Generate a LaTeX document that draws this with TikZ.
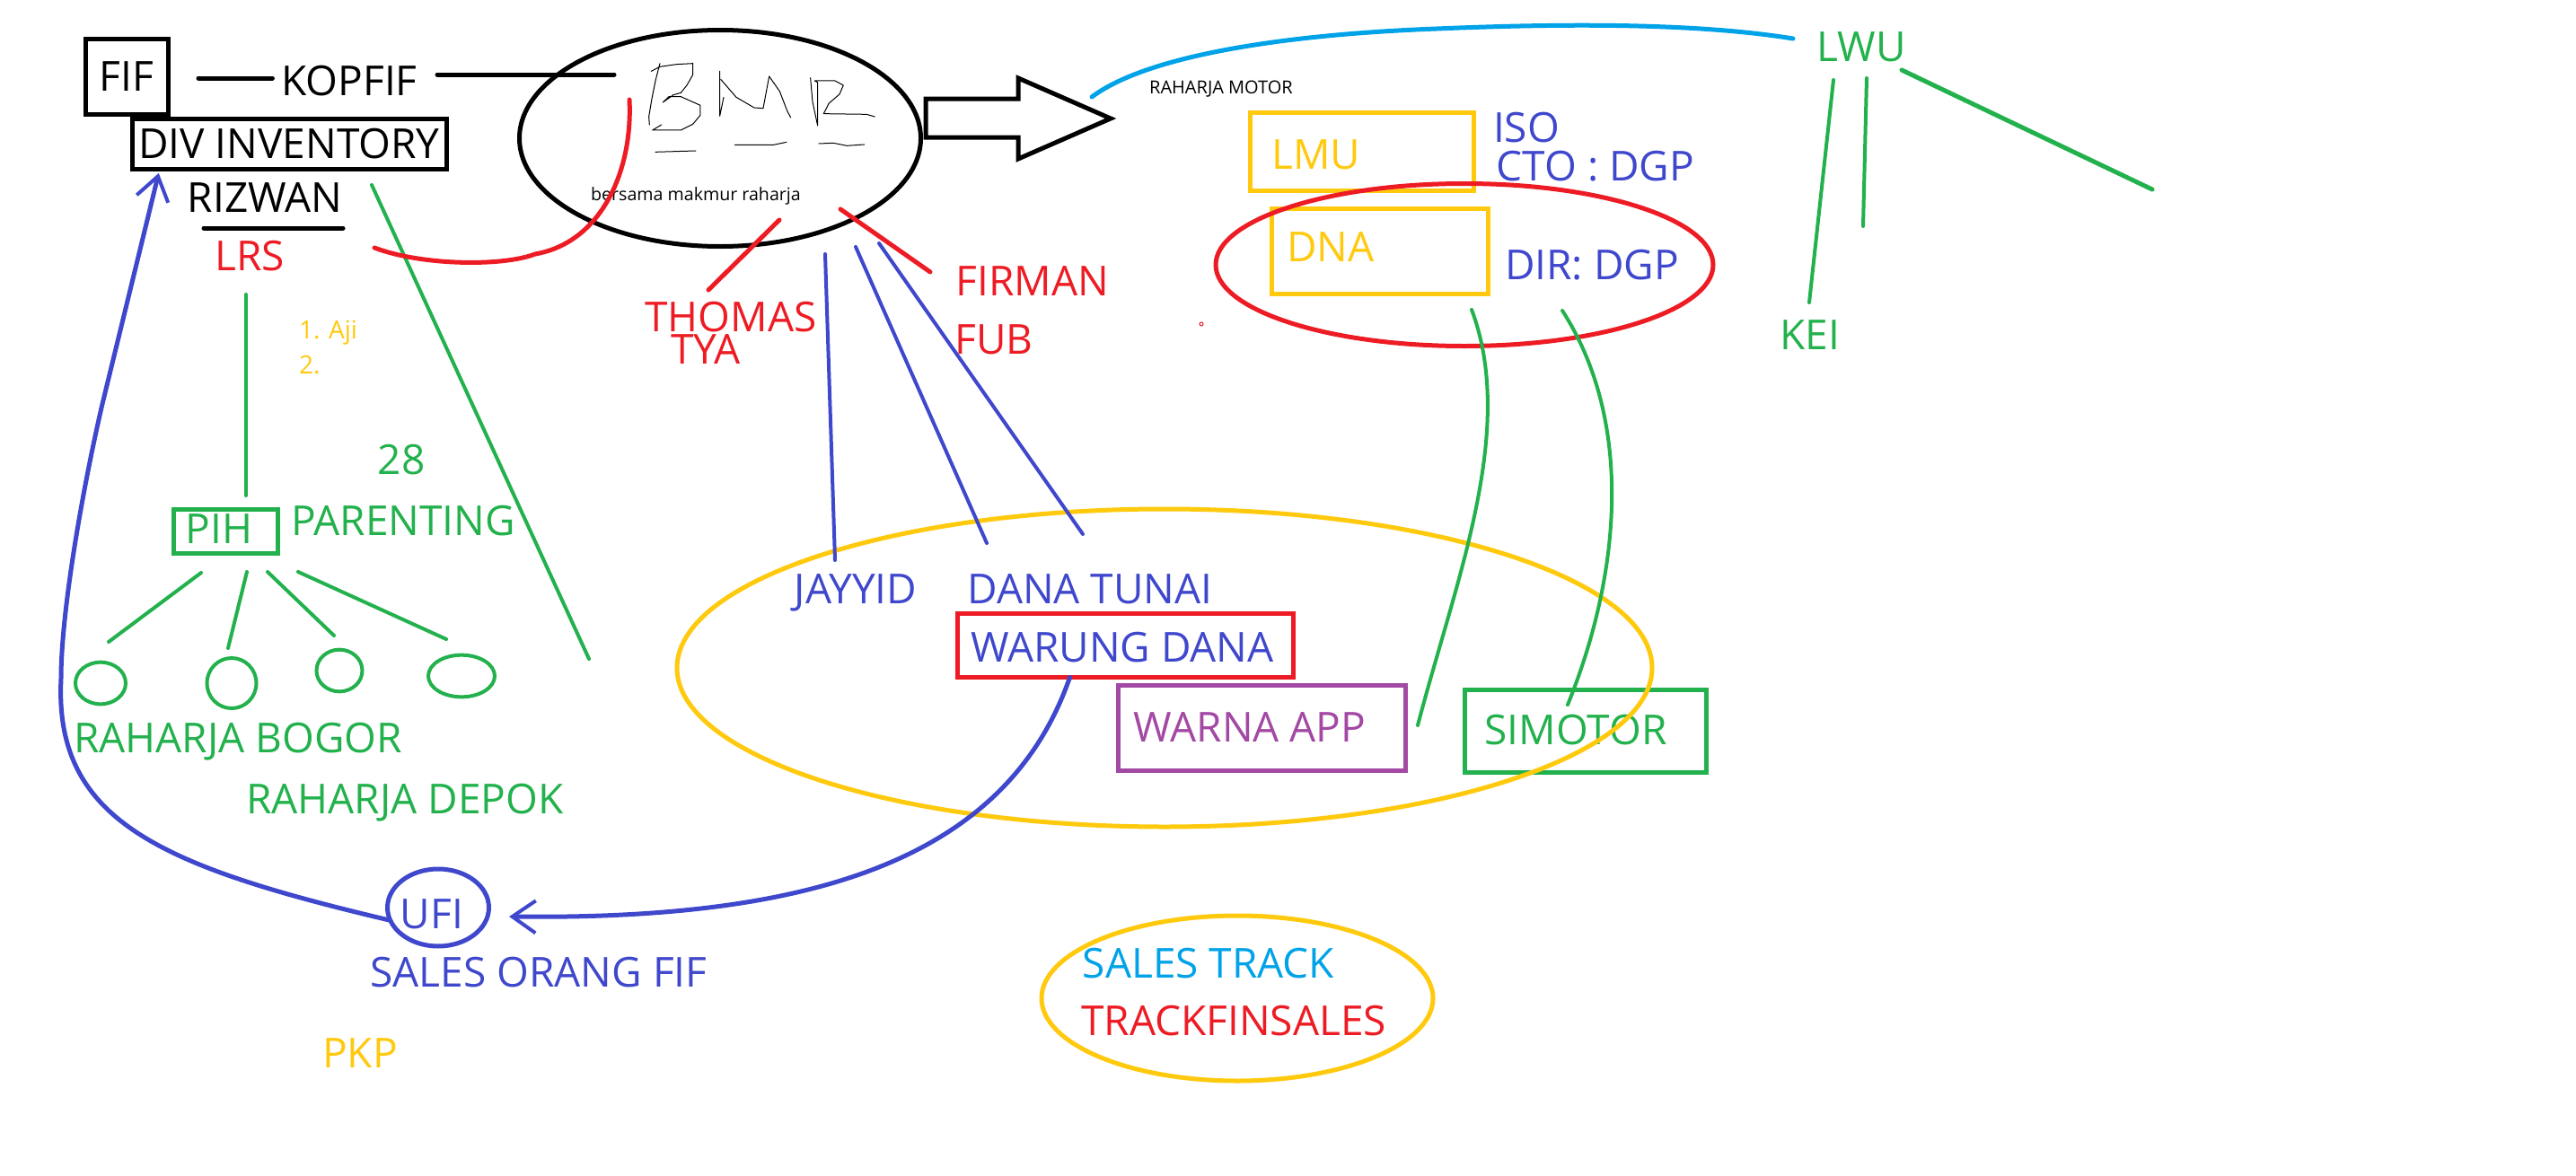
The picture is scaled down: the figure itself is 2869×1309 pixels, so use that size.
\documentclass[tikz,border=0pt]{standalone}
\usepackage{fontspec}
\setmainfont{Open Sans}
\usetikzlibrary{arrows.meta,shapes.geometric}

\definecolor{pblue}{HTML}{3F48CC}
\definecolor{pred}{HTML}{ED1C24}
\definecolor{pgreen}{HTML}{22B14C}
\definecolor{pyellow}{HTML}{FFC90E}
\definecolor{ppurple}{HTML}{A349A4}
\definecolor{pcyan}{HTML}{00A2E8}

\tikzset{
  every node/.style={inner sep=0pt,outer sep=0pt,text height=33pt,text depth=0pt,font=\fontsize{46}{50}\selectfont},
  smalltxt/.style={font=\fontsize{#1}{#1}\selectfont,text height=14pt},
  boxed/.style={draw,line width=5pt,rectangle},
  oval/.style={draw,line width=5pt,ellipse},
  kid/.style={draw=pgreen,line width=4pt,ellipse},
  line/.style={line width=#1,line cap=round,line join=round},
  line/.default=4pt,
  barb/.style={-{Straight Barb[length=26pt,width=36pt,line width=4pt]}}
}

\begin{document}
\begin{tikzpicture}[x=1pt,y=-1pt]
  \useasboundingbox (0,0) rectangle (2869,1309);

  \node[boxed,minimum width=92pt,minimum height=84pt]   (fif)      at (141,85)   {FIF};
  \node                                                 (kopfif)   at (389,90)   {KOPFIF};
  \node[boxed,minimum width=350pt,minimum height=56pt]  (divinv)   at (322,160)  {DIV INVENTORY};
  \node                                                 (rizwan)   at (295,220)  {RIZWAN};
  \node[text=pred]                                      (lrs)      at (278,285)  {LRS};
  \node[smalltxt=28,text=pyellow,anchor=base west]      (aji)      at (333,377)  {1. Aji};
  \node[smalltxt=28,text=pyellow,anchor=base west]      (ajitwo)   at (333,416)  {2.};
  \node[text=pgreen]                                    (n28)      at (447,512)  {28};
  \node[text=pgreen]                                    (parent)   at (449,580)  {PARENTING};
  \node[boxed,draw=pgreen,minimum width=116pt,minimum height=49pt] (pihbox) at (251,592) {};
  \node[text=pgreen]                                    (pih)      at (244,589)  {PIH};
  \node[kid,minimum width=56pt,minimum height=46pt]     (kida)     at (112,761)  {};
  \node[kid,minimum width=55pt,minimum height=56pt]     (kidb)     at (258,761)  {};
  \node[kid,minimum width=51pt,minimum height=40pt]     (kidc)     at (378,747)  {};
  \node[kid,minimum width=74pt,minimum height=46pt]     (kidd)     at (514,753)  {};
  \node[text=pgreen]                                    (bogor)    at (265,822)  {RAHARJA BOGOR};
  \node[text=pgreen]                                    (depok)    at (451,890)  {RAHARJA DEPOK};

  \node[oval,draw=pblue,minimum width=113pt,minimum height=86pt] (ufi) at (488,1011) {};
  \node[text=pblue]                                     (ufitxt)   at (481,1018) {UFI};
  \node[text=pblue]                                     (salesfif) at (600,1083) {SALES ORANG FIF};
  \node[text=pyellow]                                   (pkp)      at (401,1173) {PKP};

  \node[smalltxt=19.6]                                  (bersama)  at (775,216)  {bersama makmur raharja};
  \node[oval,minimum width=447pt,minimum height=241pt]  (bmr)      at (802,154)  {};
  \node[text=pred]                                      (thomas)   at (814,353)  {THOMAS};
  \node[text=pred]                                      (tya)      at (786,389)  {TYA};
  \node[text=pred]                                      (firman)   at (1150,313) {FIRMAN};
  \node[text=pred]                                      (fub)      at (1107,378) {FUB};

  \node[text=pblue]                                     (jayyid)   at (953,656)  {JAYYID};
  \node[text=pblue]                                     (danatunai) at (1214,656) {DANA TUNAI};
  \node[boxed,draw=pred,text=pblue,minimum width=374pt,minimum height=71pt] (warung) at (1253,719) {};
  \node[text=pblue]                                     (warungtxt) at (1250,721) {WARUNG DANA};
  \node[boxed,draw=ppurple,minimum width=320pt,minimum height=95pt] (warnabox) at (1405,811) {};
  \node[text=ppurple]                                   (warna)    at (1392,810) {WARNA APP};
  \node[boxed,draw=pgreen,minimum width=269pt,minimum height=92pt]  (simbox)   at (1766,814) {};
  \node[text=pgreen]                                    (simotor)  at (1755,813) {SIMOTOR};
  \node[oval,draw=pyellow,minimum width=1086pt,minimum height=354pt] (appoval) at (1297,744) {};

  \node[oval,draw=pyellow,minimum width=436pt,minimum height=184pt] (salesoval) at (1378,1112) {};
  \node[text=pcyan]                                     (salestrack) at (1346,1073) {SALES TRACK};
  \node[text=pred]                                      (trackfin) at (1374,1137) {TRACKFINSALES};

  \node[smalltxt=20]                                    (rmotor)   at (1360,97)  {RAHARJA MOTOR};
  \node[boxed,draw=pyellow,minimum width=249pt,minimum height=87pt] (lmubox) at (1517,169) {};
  \node[text=pyellow]                                   (lmu)      at (1466,172) {LMU};
  \node[text=pblue]                                     (iso)      at (1700,142) {ISO};
  \node[text=pblue]                                     (cto)      at (1777,185) {CTO : DGP};
  \node[boxed,draw=pyellow,minimum width=241pt,minimum height=95pt] (dnabox) at (1537,280) {};
  \node[text=pyellow]                                   (dna)      at (1482,275) {DNA};
  \node[text=pblue]                                     (dir)      at (1773,295) {DIR: DGP};
  \node[oval,draw=pred,minimum width=554pt,minimum height=181pt]    (dnaoval) at (1631,295) {};
  \node[draw=pred,line width=1pt,circle,text height=0pt,minimum size=4pt] (speck) at (1338,361) {};

  \node[text=pgreen]                                    (lwu)      at (2073,52)  {LWU};
  \node[text=pgreen]                                    (kei)      at (2016,373) {KEI};

  \coordinate (kopa) at (487,83);
  \coordinate (bmra) at (684,83);
  \coordinate (riza) at (227,254);
  \coordinate (rizb) at (382,254);
  \coordinate (lrsa) at (274,328);
  \coordinate (piha) at (274,552);
  \coordinate (diva) at (414,206);
  \coordinate (divb) at (656,734);
  \coordinate (pka)  at (224,638);
  \coordinate (pkb)  at (121,715);
  \coordinate (pkc)  at (275,637);
  \coordinate (pkd)  at (254,722);
  \coordinate (pke)  at (298,637);
  \coordinate (pkf)  at (372,708);
  \coordinate (pkg)  at (332,637);
  \coordinate (pkh)  at (497,712);
  \coordinate (thoa) at (868,245);
  \coordinate (thob) at (789,323);
  \coordinate (fira) at (936,233);
  \coordinate (firb) at (1036,303);
  \coordinate (jaya) at (919,283);
  \coordinate (jayb) at (930,624);
  \coordinate (dana) at (953,275);
  \coordinate (danb) at (1099,605);
  \coordinate (dtna) at (979,271);
  \coordinate (dtnb) at (1206,595);
  \coordinate (lwua) at (2042,89);
  \coordinate (lwub) at (2015,337);
  \coordinate (lwuc) at (2079,87);
  \coordinate (lwud) at (2075,252);
  \coordinate (lwue) at (2118,78);
  \coordinate (lwuf) at (2397,211);
  \coordinate (lrsb) at (417,276);
  \coordinate (bmrb) at (701,111);
  \coordinate (rmot) at (1216,108);
  \coordinate (lwug) at (1997,43);
  \coordinate (dnaa) at (1639,345);
  \coordinate (warb) at (1579,808);
  \coordinate (dnac) at (1740,346);
  \coordinate (simb) at (1746,785);

  \path ([yshift=-2pt]fif.east) edge[line=5pt,shorten <=34pt,shorten >=10pt] ([yshift=3pt]kopfif.west)
        (kopa) edge[line=5pt] (bmra)
        (riza) edge[line=5pt] (rizb);

  \path[pgreen] (lrsa) edge[line] (piha)
                (diva) edge[line] (divb)
                (pka)  edge[line] (pkb)
                (pkc)  edge[line] (pkd)
                (pke)  edge[line] (pkf)
                (pkg)  edge[line] (pkh)
                (lwua) edge[line] (lwub)
                (lwuc) edge[line] (lwud)
                (lwue) edge[line=5pt] (lwuf);

  \path[pred] (thoa) edge[line=5pt] (thob)
              (fira) edge[line=5pt] (firb);

  \path[pblue] (jaya) edge[line] (jayb)
               (dana) edge[line] (danb)
               (dtna) edge[line] (dtnb);

  \draw[pred,line=5pt] (bmrb) .. controls (705,190) and (670,270) .. (596,283)
                              .. controls (560,297) and (470,296) .. (lrsb);
  \draw[pcyan,line=5pt] (rmot) .. controls (1280,60) and (1440,38) .. (1600,32)
                               .. controls (1720,27) and (1880,24) .. (lwug);
  \draw[pgreen,line] (dnaa) .. controls (1690,480) and (1620,650) .. (warb);
  \draw[pgreen,line] (dnac) .. controls (1820,470) and (1805,640) .. (simb);
  \draw[pblue,line=5pt,barb,shorten >=24pt] (warung.210) .. controls (1120,960) and (900,1025) .. (ufi.350);
  \draw[pblue,line=5pt,barb,shorten >=5pt] (ufi.195) .. controls (180,965) and (60,915) .. (68,756)
                            .. controls (68,680) and (93,540) .. (114,450)
                            -- (divinv.191);

  \draw[line=5pt,miter limit=10,line join=miter] (1031,110) -- (1134,110) -- (1134,87) -- (1237,132)
        -- (1134,177) -- (1134,153) -- (1031,153) -- cycle;

  \begin{scope}[shift={(620,40)},scale=0.3333]
    \draw[line=1pt] (345,92) -- (330,150) -- (318,210) -- (308,270) -- (310,297);
    \draw[line=1pt] (316,118) -- (345,103) -- (400,95) -- (455,92) -- (455,130) -- (435,165) -- (415,190)
          -- (390,197) -- (355,222) -- (375,203) -- (415,203) -- (480,232) -- (480,265) -- (455,295)
          -- (415,315) -- (320,315) -- (350,297);
    \draw[line=1pt] (545,118) -- (545,268) -- (558,205);
    \draw[line=1pt] (548,145) -- (600,205) -- (660,240) -- (690,242) -- (710,135) -- (745,185) -- (770,250) -- (782,273);
    \draw[line=1pt] (848,140) -- (855,220) -- (872,300) -- (872,155) -- (862,150) -- (930,150) -- (958,165)
          -- (945,195) -- (910,225) -- (892,260) -- (1035,262) -- (1063,270);
    \draw[line=1pt] (330,388) -- (465,384);
    \draw[line=1pt] (595,364) -- (725,364) -- (768,355);
    \draw[line=1pt] (876,360) -- (925,358) -- (970,367) -- (1028,363);
  \end{scope}
\end{tikzpicture}
\end{document}
